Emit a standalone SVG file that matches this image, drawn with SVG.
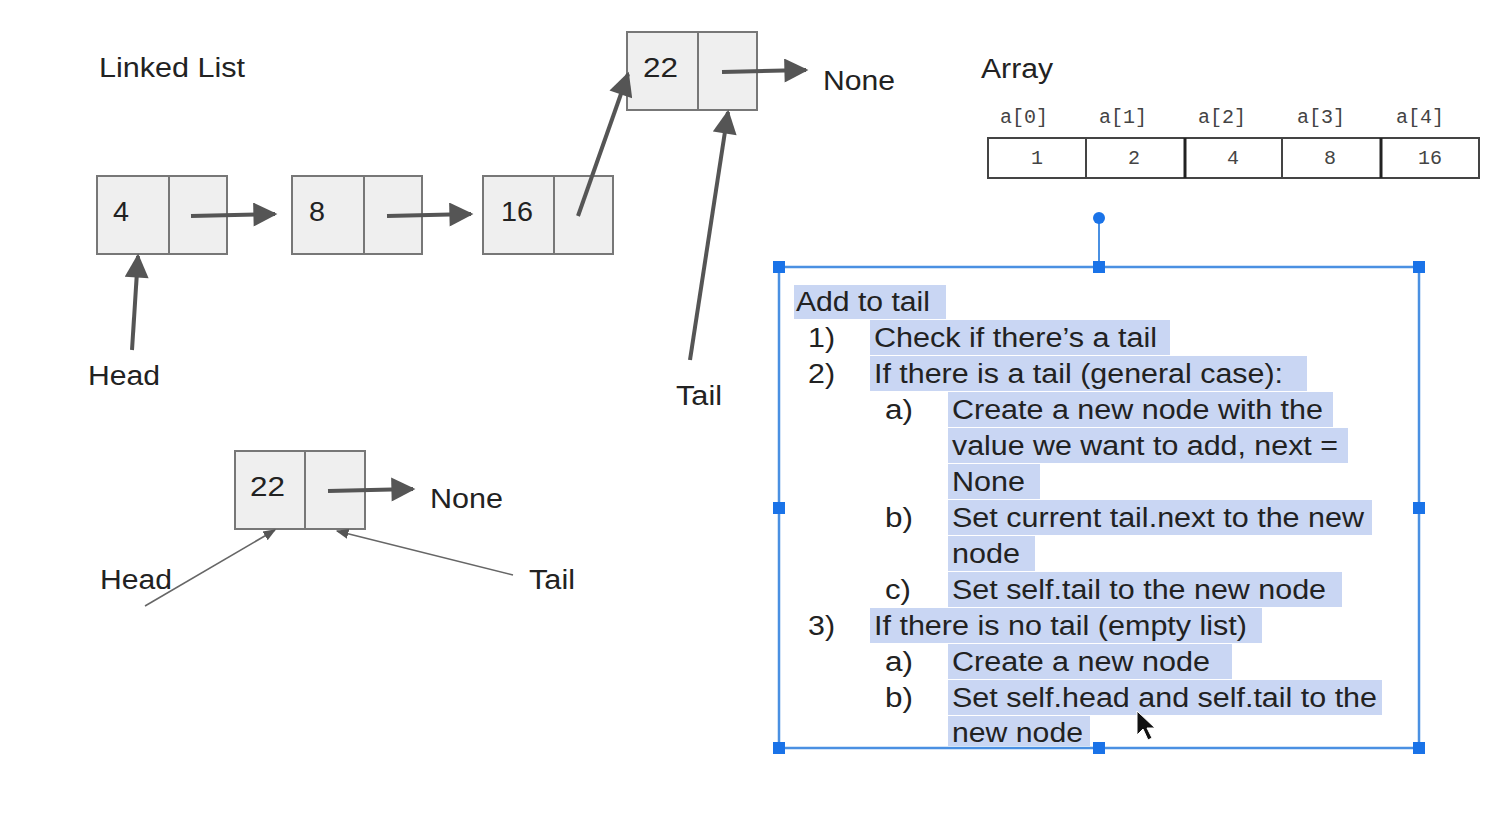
<svg xmlns="http://www.w3.org/2000/svg" width="1504" height="840" viewBox="0 0 1504 840">
<defs>
<marker id="ah" viewBox="0 0 10 10" refX="9" refY="5" markerWidth="7" markerHeight="6" orient="auto" markerUnits="strokeWidth">
<path d="M0,0 L10,5 L0,10 z" fill="#555"/>
</marker>
<marker id="ahs" viewBox="0 0 10 10" refX="9" refY="5" markerWidth="8" markerHeight="8" orient="auto" markerUnits="strokeWidth">
<path d="M0,1 L10,5 L0,9 z" fill="#555"/>
</marker>
<style>
.t{font-family:"Liberation Sans",Arial,sans-serif;font-size:27px;fill:#222}
.m{font-family:"Liberation Mono","Courier New",monospace;font-size:20px;fill:#444}
.node rect{fill:#efefef;stroke:#777;stroke-width:2}
.node line{stroke:#777;stroke-width:2}
.ar{stroke:#555;stroke-width:4;fill:none;marker-end:url(#ah)}
.thin{stroke:#666;stroke-width:1.6;fill:none;marker-end:url(#ahs)}
.hl{fill:#c9d6f3}
.cell{fill:#fff;stroke:#444;stroke-width:2}
.h{fill:#1a73e8}
</style>
</defs>
<rect width="1504" height="840" fill="#fff"/>

<text class="t" x="99" y="77" textLength="146" lengthAdjust="spacingAndGlyphs">Linked List</text>
<text class="t" x="981" y="78" textLength="72" lengthAdjust="spacingAndGlyphs">Array</text>

<g id="node4" class="node"><rect x="97" y="176" width="130" height="78"/><line x1="169" y1="176" x2="169" y2="254"/><text class="t" x="113" y="221" textLength="16" lengthAdjust="spacingAndGlyphs">4</text></g>
<g id="node8" class="node"><rect x="292" y="176" width="130" height="78"/><line x1="364" y1="176" x2="364" y2="254"/><text class="t" x="309" y="221" textLength="16" lengthAdjust="spacingAndGlyphs">8</text></g>
<g id="node16" class="node"><rect x="483" y="176" width="130" height="78"/><line x1="554" y1="176" x2="554" y2="254"/><text class="t" x="501" y="221" textLength="32" lengthAdjust="spacingAndGlyphs">16</text></g>
<g id="node22" class="node"><rect x="627" y="32" width="130" height="78"/><line x1="698" y1="32" x2="698" y2="110"/><text class="t" x="643" y="77" textLength="35" lengthAdjust="spacingAndGlyphs">22</text></g>
<g id="none1"><text class="t" x="823" y="90" textLength="72" lengthAdjust="spacingAndGlyphs">None</text></g>
<g id="head1"><text class="t" x="88" y="385" textLength="72" lengthAdjust="spacingAndGlyphs">Head</text></g>
<g id="tail1"><text class="t" x="676" y="405" textLength="46" lengthAdjust="spacingAndGlyphs">Tail</text></g>

<g id="node22b" class="node"><rect x="235" y="451" width="130" height="78"/><line x1="305" y1="451" x2="305" y2="529"/><text class="t" x="250" y="496" textLength="35" lengthAdjust="spacingAndGlyphs">22</text></g>
<g id="none2"><text class="t" x="430" y="508" textLength="73" lengthAdjust="spacingAndGlyphs">None</text></g>
<g id="head2"><text class="t" x="100" y="589" textLength="72" lengthAdjust="spacingAndGlyphs">Head</text></g>
<g id="tail2"><text class="t" x="529" y="589" textLength="46" lengthAdjust="spacingAndGlyphs">Tail</text></g>

<g id="connectors">
<line class="ar" x1="191" y1="216" x2="275" y2="214"/>
<line class="ar" x1="387" y1="216" x2="471" y2="214"/>
<line class="ar" x1="578" y1="216" x2="628" y2="74"/>
<line class="ar" x1="722" y1="72" x2="806" y2="70"/>
<line class="ar" x1="132" y1="350" x2="138" y2="256"/>
<line class="ar" x1="690" y1="360" x2="728" y2="112"/>
<line class="ar" x1="328" y1="491" x2="413" y2="489"/>
<line class="thin" x1="145" y1="606" x2="275" y2="530"/>
<line class="thin" x1="513" y1="575" x2="337" y2="531"/>
</g>

<g id="array">
<text class="m" x="1000" y="123">a[0]</text>
<text class="m" x="1099" y="123">a[1]</text>
<text class="m" x="1198" y="123">a[2]</text>
<text class="m" x="1297" y="123">a[3]</text>
<text class="m" x="1396" y="123">a[4]</text>
<rect class="cell" x="988" y="138" width="491" height="40"/>
<line x1="1086" y1="138" x2="1086" y2="178" stroke="#444" stroke-width="2"/>
<line x1="1185" y1="138" x2="1185" y2="178" stroke="#222" stroke-width="3"/>
<line x1="1282" y1="138" x2="1282" y2="178" stroke="#444" stroke-width="2"/>
<line x1="1381" y1="138" x2="1381" y2="178" stroke="#222" stroke-width="3"/>
<text class="m" x="1037" y="164" text-anchor="middle">1</text>
<text class="m" x="1134" y="164" text-anchor="middle">2</text>
<text class="m" x="1233" y="164" text-anchor="middle">4</text>
<text class="m" x="1330" y="164" text-anchor="middle">8</text>
<text class="m" x="1430" y="164" text-anchor="middle">16</text>
</g>

<g id="textbox">
<rect class="hl" x="794" y="285" width="152" height="34"/>
<rect class="hl" x="870" y="320" width="300" height="35"/>
<rect class="hl" x="870" y="356" width="437" height="35"/>
<rect class="hl" x="948" y="392" width="385" height="35"/>
<rect class="hl" x="948" y="428" width="400" height="35"/>
<rect class="hl" x="948" y="464" width="92" height="35"/>
<rect class="hl" x="948" y="500" width="424" height="35"/>
<rect class="hl" x="948" y="536" width="87" height="35"/>
<rect class="hl" x="948" y="572" width="394" height="35"/>
<rect class="hl" x="870" y="608" width="392" height="35"/>
<rect class="hl" x="948" y="644" width="284" height="35"/>
<rect class="hl" x="948" y="680" width="434" height="35"/>
<rect class="hl" x="948" y="716" width="142" height="30"/>

<text class="t" x="796" y="311" textLength="134" lengthAdjust="spacingAndGlyphs">Add to tail</text>
<text class="t" x="808" y="347" textLength="27" lengthAdjust="spacingAndGlyphs">1)</text><text class="t" x="874" y="347" textLength="283" lengthAdjust="spacingAndGlyphs">Check if there’s a tail</text>
<text class="t" x="808" y="383" textLength="27" lengthAdjust="spacingAndGlyphs">2)</text><text class="t" x="874" y="383" textLength="409" lengthAdjust="spacingAndGlyphs">If there is a tail (general case):</text>
<text class="t" x="885" y="419" textLength="28" lengthAdjust="spacingAndGlyphs">a)</text><text class="t" x="952" y="419" textLength="371" lengthAdjust="spacingAndGlyphs">Create a new node with the</text>
<text class="t" x="952" y="455" textLength="386" lengthAdjust="spacingAndGlyphs">value we want to add, next =</text>
<text class="t" x="952" y="491" textLength="73" lengthAdjust="spacingAndGlyphs">None</text>
<text class="t" x="885" y="527" textLength="28" lengthAdjust="spacingAndGlyphs">b)</text><text class="t" x="952" y="527" textLength="412" lengthAdjust="spacingAndGlyphs">Set current tail.next to the new</text>
<text class="t" x="952" y="563" textLength="68" lengthAdjust="spacingAndGlyphs">node</text>
<text class="t" x="885" y="599" textLength="26" lengthAdjust="spacingAndGlyphs">c)</text><text class="t" x="952" y="599" textLength="374" lengthAdjust="spacingAndGlyphs">Set self.tail to the new node</text>
<text class="t" x="808" y="635" textLength="27" lengthAdjust="spacingAndGlyphs">3)</text><text class="t" x="874" y="635" textLength="373" lengthAdjust="spacingAndGlyphs">If there is no tail (empty list)</text>
<text class="t" x="885" y="671" textLength="28" lengthAdjust="spacingAndGlyphs">a)</text><text class="t" x="952" y="671" textLength="258" lengthAdjust="spacingAndGlyphs">Create a new node</text>
<text class="t" x="885" y="707" textLength="28" lengthAdjust="spacingAndGlyphs">b)</text><text class="t" x="952" y="707" textLength="425" lengthAdjust="spacingAndGlyphs">Set self.head and self.tail to the</text>
<text class="t" x="952" y="742" textLength="131" lengthAdjust="spacingAndGlyphs">new node</text>

<rect x="779" y="267" width="640" height="481" fill="none" stroke="#4a90e2" stroke-width="2.5"/>
<line x1="1099" y1="218" x2="1099" y2="267" stroke="#4a90e2" stroke-width="2"/>
<circle cx="1099" cy="218" r="6" class="h"/>
<rect class="h" x="773" y="261" width="12" height="12"/>
<rect class="h" x="1093" y="261" width="12" height="12"/>
<rect class="h" x="1413" y="261" width="12" height="12"/>
<rect class="h" x="773" y="502" width="12" height="12"/>
<rect class="h" x="1413" y="502" width="12" height="12"/>
<rect class="h" x="773" y="742" width="12" height="12"/>
<rect class="h" x="1093" y="742" width="12" height="12"/>
<rect class="h" x="1413" y="742" width="12" height="12"/>
<path d="M1137,711 L1137,735 L1143,729 L1148,740 L1152,738 L1147,728 L1155,728 Z" fill="#111" stroke="#fff" stroke-width="1"/>
</g>
</svg>
